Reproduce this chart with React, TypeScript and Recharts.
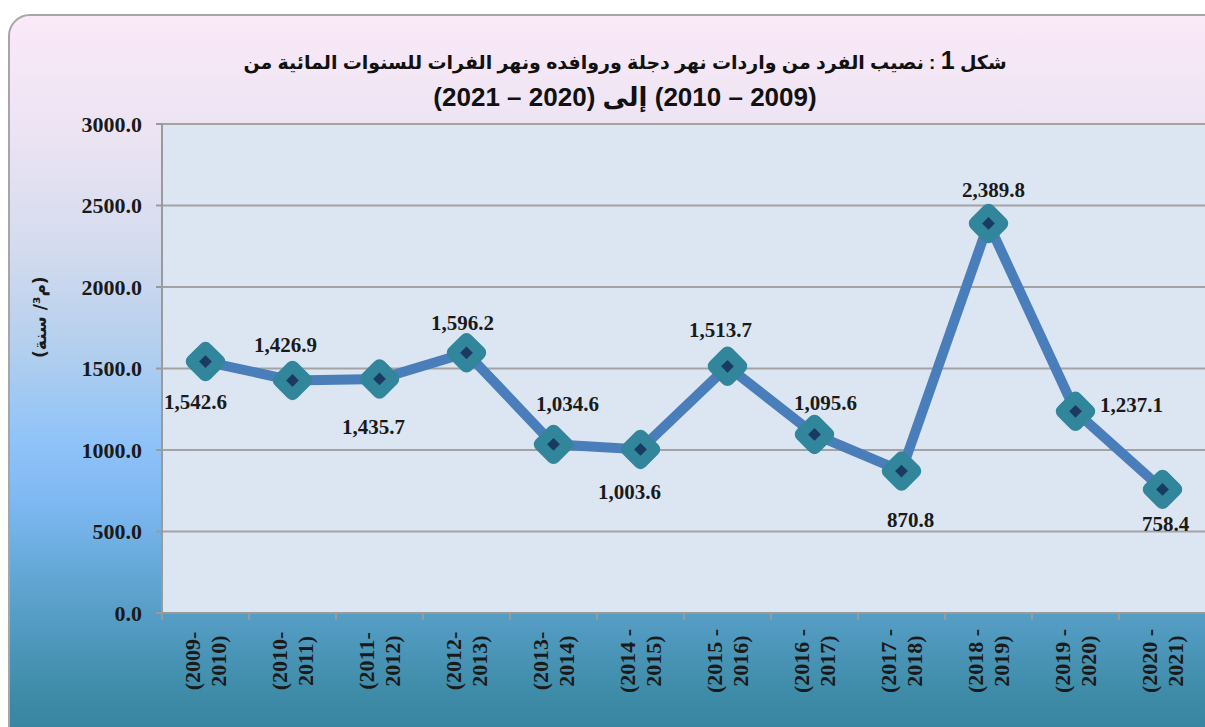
import React from "react";
import { LineChart, Line, XAxis, YAxis, CartesianGrid, LabelList } from "recharts";

const categories = [
  "(2009-\n2010)",
  "(2010-\n2011)",
  "(2011-\n2012)",
  "(2012-\n2013)",
  "(2013-\n2014)",
  "(2014 -\n2015)",
  "(2015 -\n2016)",
  "(2016 -\n2017)",
  "(2017 -\n2018)",
  "(2018 -\n2019)",
  "(2019 -\n2020)",
  "(2020 -\n2021)",
];

const perCapitaValues = [1542.6, 1426.9, 1435.7, 1596.2, 1034.6, 1003.6, 1513.7, 1095.6, 870.8, 2389.8, 1237.1, 758.4];

const yTicks = [0, 500, 1000, 1500, 2000, 2500, 3000];

const titleLine1Start = "شكل ";
const titleLine1Number = "1";
const titleLine1Rest = " : نصيب الفرد من واردات نهر دجلة وروافده ونهر الفرات للسنوات المائية من";
const titleLine2 = "(2009 – 2010) إلى (2020 – 2021)";
const yAxisTitle = "(م³/ سنة)";

// label placement offsets (dx, dy) relative to each point
const labelOffsets: [number, number][] = [
  [-10, 40], [-7, -35], [-6, 48], [-4, -30], [14, -40], [-11, 43],
  [-7, -36], [11, -31], [9, 49], [5, -33], [56, -6], [3, 35],
];

const data = categories.map((c, i) => ({ cat: c, value: perCapitaValues[i] }));

const fmt = (v: number) =>
  v.toLocaleString("en-US", { minimumFractionDigits: 1, maximumFractionDigits: 1 });

const serif = "'Liberation Serif', 'Times New Roman', serif";
const sans = "'Liberation Sans', Arial, 'DejaVu Sans', sans-serif";

const PLOT_BOTTOM = 613;

const XTick = (props: any) => {
  const { x, payload } = props;
  const lines = String(payload.value).split("\n");
  const half = 43.5;
  return (
    <g>
      <line x1={x - half} y1={PLOT_BOTTOM} x2={x - half} y2={PLOT_BOTTOM + 7} stroke="#9a9a9a" strokeWidth={2} />
      <line x1={x + half} y1={PLOT_BOTTOM} x2={x + half} y2={PLOT_BOTTOM + 7} stroke="#9a9a9a" strokeWidth={2} />
      <g transform={`translate(${x}, 661) rotate(-90)`}>
        <text textAnchor="middle" fontFamily={serif} fontWeight="bold" fontSize={22} fill="#1a1a1a">
          <tspan x={0} y={-5.5}>{lines[0]}</tspan>
          <tspan x={0} y={20.5}>{lines[1]}</tspan>
        </text>
      </g>
    </g>
  );
};

const DiamondDot = (props: any) => {
  const { cx, cy } = props;
  if (cx == null || cy == null) return null;
  return (
    <g>
      <rect x={cx - 16} y={cy - 16} width={32} height={32} rx={7} ry={7}
        fill="#31869b" transform={`rotate(45, ${cx}, ${cy})`} />
      <rect x={cx - 4.5} y={cy - 4.5} width={9} height={9}
        fill="#1b3a63" transform={`rotate(45, ${cx}, ${cy})`} />
    </g>
  );
};

const ValueLabel = (props: any) => {
  const { x, y, value, index } = props;
  const [dx, dy] = labelOffsets[index] || [0, -30];
  return (
    <text x={x + dx} y={y + dy} textAnchor="middle" dominantBaseline="central"
      fontFamily={serif} fontWeight="bold" fontSize={21} fill="#1a1a1a">
      {fmt(value)}
    </text>
  );
};

const YTitle = (props: any) => {
  const vb = props.viewBox || {};
  const cy = (vb.y ?? 124) + (vb.height ?? 489) * 0.395;
  return (
    <text
      transform={`translate(40, ${cy}) rotate(-90)`}
      textAnchor="middle"
      dominantBaseline="central"
      direction="rtl"
      fontFamily="'DejaVu Sans', sans-serif"
      fontWeight="bold"
      fontSize={17}
      fill="#1a1a1a"
    >
      {yAxisTitle}
    </text>
  );
};

export default function App() {
  return (
    <div style={{ position: "fixed", left: 0, top: 0, width: 1205, height: 727, overflow: "hidden", background: "#ffffff" }}>
      <div
        style={{
          position: "absolute",
          left: 8,
          top: 14,
          width: 1260,
          height: 760,
          border: "2px solid #a6a6a6",
          borderRadius: 22,
          boxSizing: "border-box",
          background:
            "linear-gradient(to bottom, #fbe9f8 0%, #ece4f3 15%, #d3dbee 31%, #b3cfee 44%, #90c3f8 56%, #7fb9f3 64%, #60a5d2 75%, #3d8ba7 90%, #317e98 100%)",
        }}
      />
      <div
        style={{
          position: "absolute",
          left: 225,
          width: 800,
          top: 45,
          height: 30,
          textAlign: "center",
          direction: "rtl",
          fontFamily: sans,
          fontWeight: "bold",
          fontSize: 19,
          lineHeight: "30px",
          color: "#111111",
          whiteSpace: "nowrap",
        }}
      >
        {titleLine1Start}
        <span style={{ fontSize: 25 }}>{titleLine1Number}</span>
        {titleLine1Rest}
      </div>
      <div
        style={{
          position: "absolute",
          left: 225,
          width: 800,
          top: 80,
          height: 34,
          textAlign: "center",
          direction: "rtl",
          fontFamily: sans,
          fontWeight: "bold",
          fontSize: 26,
          lineHeight: "34px",
          color: "#111111",
          whiteSpace: "nowrap",
        }}
      >
        {titleLine2}
      </div>
      <div style={{ position: "absolute", left: 0, top: 0 }}>
        <LineChart
          width={1206}
          height={727}
          data={data}
          margin={{ top: 124, right: 0, left: 0, bottom: 0 }}
        >
          <CartesianGrid
            horizontal={true}
            vertical={false}
            stroke="#a3a3a3"
            strokeWidth={2}
            fill="#dce6f2"
            fillOpacity={1}
          />
          <XAxis
            dataKey="cat"
            height={114}
            tickLine={false}
            axisLine={{ stroke: "#9a9a9a", strokeWidth: 2 }}
            tick={<XTick />}
            interval={0}
            padding={{ left: 43.5, right: 43.5 }}
          />
          <YAxis
            width={162}
            domain={[0, 3000]}
            ticks={yTicks}
            tickFormatter={(v: number) => v.toFixed(1)}
            tickSize={6}
            tickMargin={14}
            tickLine={{ stroke: "#9a9a9a", strokeWidth: 2 }}
            axisLine={{ stroke: "#9a9a9a", strokeWidth: 2 }}
            tick={{ fontFamily: serif, fontWeight: "bold", fontSize: 22, fill: "#1a1a1a" }}
            label={<YTitle />}
          />
          <Line
            type="linear"
            dataKey="value"
            stroke="#4a7ebb"
            strokeWidth={10}
            dot={<DiamondDot />}
            activeDot={false}
            isAnimationActive={false}
          >
            <LabelList dataKey="value" content={<ValueLabel />} />
          </Line>
        </LineChart>
      </div>
    </div>
  );
}
